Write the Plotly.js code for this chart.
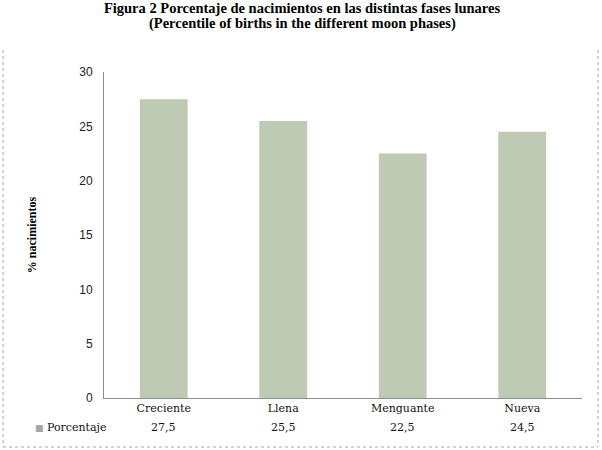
<!DOCTYPE html>
<html>
<head>
<meta charset="utf-8">
<script src="https://cdn.plot.ly/plotly-3.0.1.min.js"></script>
<style>html,body{margin:0;padding:0;background:#fff;}#chart{width:602px;height:450px;}</style>
</head>
<body>
<div id="chart"></div>
<script>
const categories = ["Creciente", "Llena", "Menguante", "Nueva"];
const values = [27.5, 25.5, 22.5, 24.5];
const valueLabels = ["27,5", "25,5", "22,5", "24,5"];
const seriesName = "Porcentaje";
const yTicks = [0, 5, 10, 15, 20, 25, 30];

const serif = "Liberation Serif";
const serifReg = "DejaVu Serif";
const barColor = "#bfcab5";
const borderColor = "#a8a8a8";

const trace = {
  type: "bar",
  x: categories,
  y: values,
  name: seriesName,
  marker: {color: barColor},
  showlegend: false,
  hoverinfo: "x+y"
};

const valueAnnotations = categories.map((c, i) => ({
  x: c, xref: "x", y: -0.092, yref: "paper",
  text: valueLabels[i], showarrow: false,
  xanchor: "center", yanchor: "middle",
  font: {family: serifReg, size: 11, color: "#111"}
}));

const layout = {
  width: 602, height: 450,
  margin: {l: 104, r: 20, t: 72, b: 52},
  paper_bgcolor: "#fff", plot_bgcolor: "#fff",
  bargap: 0.6,
  title: {
    text: "<b>Figura 2 Porcentaje de nacimientos en las distintas fases lunares</b>",
    x: (302 - 104) / 478, xanchor: "center", xref: "paper",
    y: 0.983, yanchor: "middle", yref: "container",
    font: {family: serif, size: 14.5, color: "#000"}
  },
  xaxis: {
    type: "category",
    showline: true, linecolor: "#8c8c8c", linewidth: 1,
    ticks: "", showgrid: false, zeroline: false,
    tickfont: {family: serifReg, size: 11, color: "#111"}
  },
  yaxis: {
    range: [0, 30],
    tickvals: yTicks,
    showline: true, linecolor: "#8c8c8c", linewidth: 1,
    ticks: "", ticklabelstandoff: 8,
    showgrid: false, zeroline: false,
    tickfont: {family: "Liberation Sans", size: 12, color: "#222"},
    title: {
      text: "<b>% nacimientos</b>",
      font: {family: serif, size: 12, color: "#000"},
      standoff: 40
    }
  },
  annotations: [
    {
      text: "<b>(Percentile of births in the different moon phases)</b>",
      xref: "paper", x: (302 - 104) / 478, yref: "paper", y: (398 - 24) / 326,
      xanchor: "center", yanchor: "middle", showarrow: false,
      font: {family: serif, size: 14.5, color: "#000"}
    },
    {
      text: '<span style="color:#a6a6a6;font-size:9px">■</span> ' + seriesName,
      xref: "paper", x: (33 - 104) / 478, yref: "paper", y: -0.092,
      xanchor: "left", yanchor: "middle", showarrow: false,
      font: {family: serifReg, size: 11, color: "#111"}
    }
  ].concat(valueAnnotations),
  shapes: [
    {type: "line", xref: "paper", yref: "paper", x0: (3-104)/478, x1: (3-104)/478, y0: (398-50)/326, y1: (398-447)/326,
     line: {color: borderColor, width: 1, dash: "dot"}},
    {type: "line", xref: "paper", yref: "paper", x0: (598-104)/478, x1: (598-104)/478, y0: (398-50)/326, y1: (398-447)/326,
     line: {color: borderColor, width: 1, dash: "dot"}},
    {type: "line", xref: "paper", yref: "paper", x0: (3-104)/478, x1: (598-104)/478, y0: (398-447)/326, y1: (398-447)/326,
     line: {color: borderColor, width: 1, dash: "dot"}}
  ]
};

Plotly.newPlot("chart", [trace], layout, {displayModeBar: false, staticPlot: true});
</script>
</body>
</html>
